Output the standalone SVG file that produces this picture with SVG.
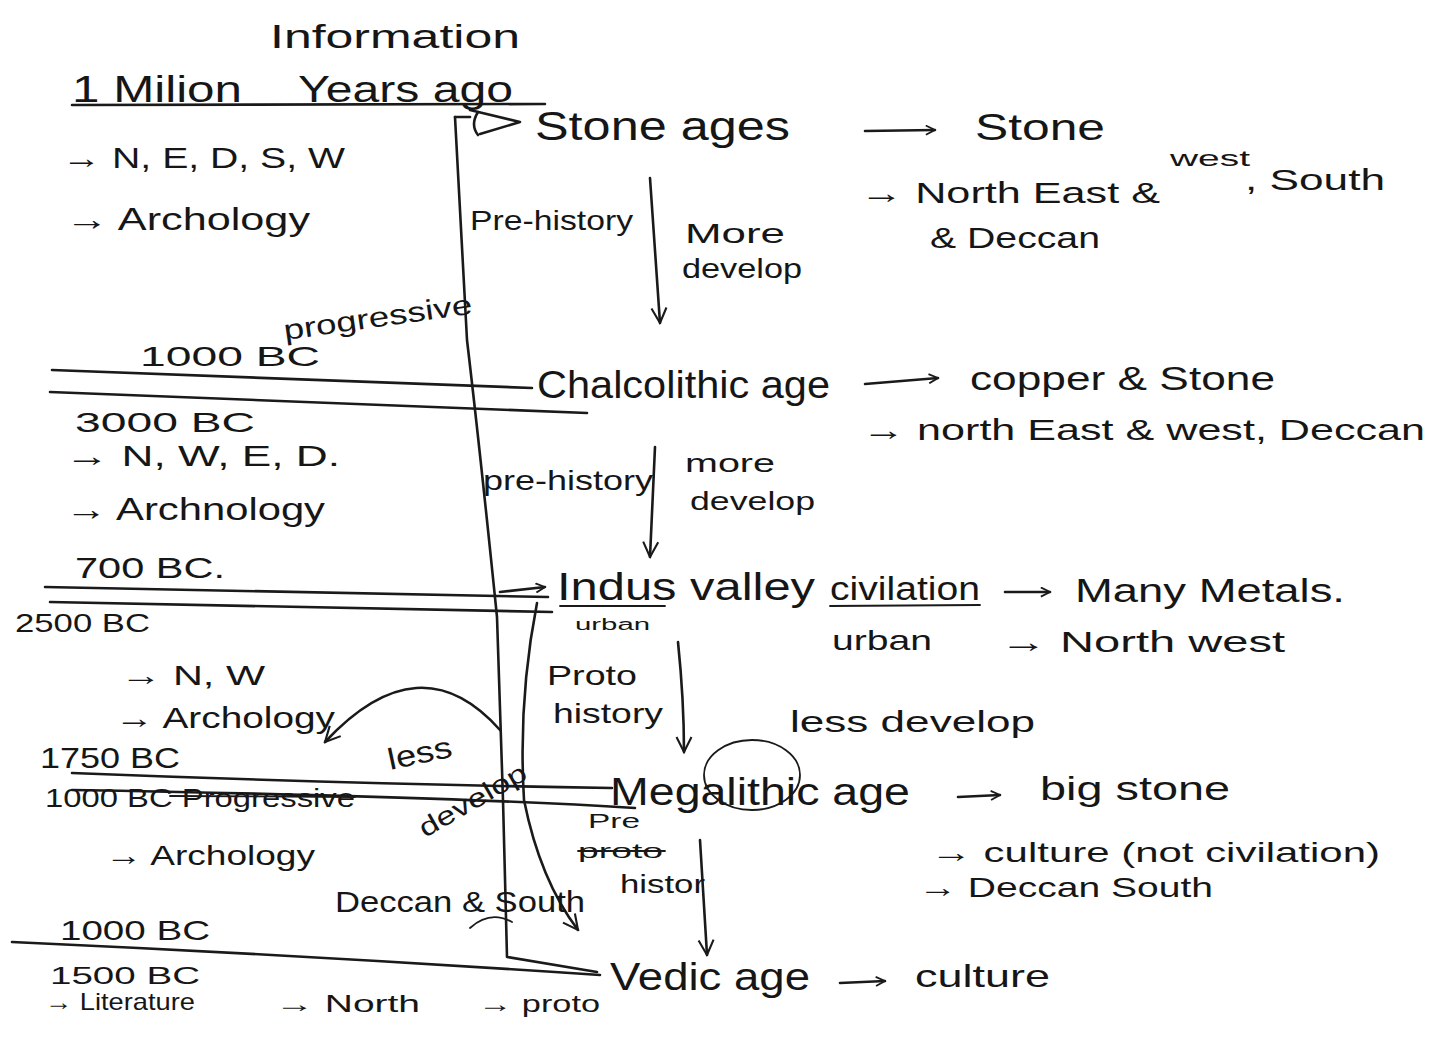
<svg xmlns="http://www.w3.org/2000/svg" width="1430" height="1045" viewBox="0 0 1430 1045">
<defs>
<style>
text{font-family:"Liberation Sans","DejaVu Sans",sans-serif;fill:#161616}
.ln{fill:none;stroke:#1a1a1a;stroke-width:2.6;stroke-linecap:round;stroke-linejoin:round}
.th{fill:none;stroke:#1a1a1a;stroke-width:1.8;stroke-linecap:round}
</style>
<marker id="ah" viewBox="0 0 12 12" refX="11" refY="6" markerWidth="11" markerHeight="11" orient="auto" markerUnits="userSpaceOnUse">
<path d="M1,1 L11,6 L1,11" fill="none" stroke="#1a1a1a" stroke-width="2"/>
</marker>
<marker id="ahb" viewBox="0 0 12 12" refX="11" refY="6" markerWidth="18" markerHeight="18" orient="auto" markerUnits="userSpaceOnUse">
<path d="M1,1 L11,6 L1,11" fill="none" stroke="#1a1a1a" stroke-width="1.4"/>
</marker>
</defs>
<rect width="1430" height="1045" fill="#ffffff"/>

<g id="title">
<text x="270" y="48" font-size="34" textLength="250" lengthAdjust="spacingAndGlyphs">Information</text>
</g>

<g id="connectors">
<!-- timeline rules -->
<path class="ln" d="M72 105 L545 104"/>
<path class="ln" d="M52 370 Q300 380 532 388"/>
<path class="ln" d="M50 392 Q320 403 587 413"/>
<path class="ln" d="M45 587 Q300 592 548 597"/>
<path class="ln" d="M50 602 Q300 606 552 612"/>
<path class="ln" d="M72 773 Q350 784 612 788"/>
<path class="ln" d="M72 790 Q440 796 635 808"/>
<path class="ln" d="M12 942 Q300 955 600 975"/>
<!-- long vertical line -->
<path class="ln" d="M455 117 L467 340 Q480 450 497 617 L503 800 L507 957 L597 972"/>
<path class="th" d="M470 928 Q490 910 512 922"/>
<!-- to Stone ages -->
<path class="ln" d="M455 117 L470 117" />
<path class="ln" d="M470 110 L520 122 L480 134" />
<path class="ln" d="M478 112 Q470 125 478 135"/>
<!-- second curve -->
<path class="ln" d="M537 603 Q518 700 524 800 Q540 880 578 930" marker-end="url(#ahb)"/>
<!-- Indus small arrow -->
<path class="ln" d="M500 592 L545 587" marker-end="url(#ah)"/>
<!-- less curved arrow -->
<path class="ln" d="M500 730 Q420 640 325 742" marker-end="url(#ahb)"/>
<!-- down arrows -->
<path class="ln" d="M650 178 L660 323" marker-end="url(#ahb)"/>
<path class="ln" d="M655 447 L650 557" marker-end="url(#ahb)"/>
<path class="ln" d="M678 642 Q684 700 684 752" marker-end="url(#ahb)"/>
<path class="ln" d="M700 840 L707 955" marker-end="url(#ahb)"/>
<!-- right arrows -->
<path class="ln" d="M865 131 L935 130" marker-end="url(#ah)"/>
<path class="ln" d="M865 384 L938 378" marker-end="url(#ah)"/>
<path class="ln" d="M1005 592 L1050 592" marker-end="url(#ah)"/>
<path class="ln" d="M958 797 L1000 795" marker-end="url(#ah)"/>
<path class="ln" d="M840 983 L885 981" marker-end="url(#ah)"/>
</g>

<g id="header">
<text x="72" y="102" font-size="36" textLength="170" lengthAdjust="spacingAndGlyphs">1 Milion</text>
<text x="298" y="102" font-size="36" textLength="215" lengthAdjust="spacingAndGlyphs">Years ago</text>
<text x="62" y="168" font-size="30" textLength="283" lengthAdjust="spacingAndGlyphs">→ N, E, D, S, W</text>
<text x="65" y="230" font-size="32" textLength="245" lengthAdjust="spacingAndGlyphs">→ Archology</text>
</g>

<g id="stone-ages">
<text x="535" y="140" font-size="40" textLength="255" lengthAdjust="spacingAndGlyphs">Stone ages</text>
<text x="470" y="230" font-size="28" textLength="163" lengthAdjust="spacingAndGlyphs">Pre-history</text>
<text x="685" y="243" font-size="28" textLength="100" lengthAdjust="spacingAndGlyphs">More</text>
<text x="682" y="278" font-size="28" textLength="120" lengthAdjust="spacingAndGlyphs">develop</text>
<text x="975" y="140" font-size="36" textLength="130" lengthAdjust="spacingAndGlyphs">Stone</text>
<text x="860" y="203" font-size="30" textLength="300" lengthAdjust="spacingAndGlyphs">→ North East &amp;</text>
<text x="1170" y="166" font-size="22" textLength="80" lengthAdjust="spacingAndGlyphs">west</text>
<text x="1245" y="190" font-size="30" textLength="140" lengthAdjust="spacingAndGlyphs">, South</text>
<text x="930" y="248" font-size="30" textLength="170" lengthAdjust="spacingAndGlyphs">&amp; Deccan</text>
</g>

<g id="chalcolithic">
<text x="285" y="340" font-size="28" textLength="190" lengthAdjust="spacingAndGlyphs" transform="rotate(-8 285 340)">progressive</text>
<text x="140" y="366" font-size="28" textLength="180" lengthAdjust="spacingAndGlyphs">1000 BC</text>
<text x="75" y="432" font-size="28" textLength="180" lengthAdjust="spacingAndGlyphs">3000 BC</text>
<text x="65" y="466" font-size="30" textLength="275" lengthAdjust="spacingAndGlyphs">→ N, W, E, D.</text>
<text x="65" y="520" font-size="32" textLength="260" lengthAdjust="spacingAndGlyphs">→ Archnology</text>
<text x="537" y="398" font-size="38" textLength="293" lengthAdjust="spacingAndGlyphs">Chalcolithic age</text>
<text x="970" y="390" font-size="34" textLength="305" lengthAdjust="spacingAndGlyphs">copper &amp; Stone</text>
<text x="862" y="440" font-size="30" textLength="563" lengthAdjust="spacingAndGlyphs">→ north East &amp; west, Deccan</text>
<text x="483" y="490" font-size="28" textLength="170" lengthAdjust="spacingAndGlyphs">pre-history</text>
<text x="685" y="472" font-size="26" textLength="90" lengthAdjust="spacingAndGlyphs">more</text>
<text x="690" y="510" font-size="26" textLength="125" lengthAdjust="spacingAndGlyphs">develop</text>
</g>

<g id="indus">
<text x="75" y="578" font-size="30" textLength="150" lengthAdjust="spacingAndGlyphs">700 BC.</text>
<text x="15" y="632" font-size="26" textLength="135" lengthAdjust="spacingAndGlyphs">2500 BC</text>
<text x="557" y="600" font-size="38" textLength="258" lengthAdjust="spacingAndGlyphs">Indus valley</text>
<path class="th" d="M560 606 L665 606"/>
<text x="830" y="600" font-size="34" textLength="150" lengthAdjust="spacingAndGlyphs">civilation</text>
<path class="th" d="M830 606 L980 605"/>
<text x="1075" y="602" font-size="34" textLength="270" lengthAdjust="spacingAndGlyphs">Many Metals.</text>
<text x="575" y="630" font-size="16" textLength="75" lengthAdjust="spacingAndGlyphs">urban</text>
<text x="832" y="650" font-size="28" textLength="100" lengthAdjust="spacingAndGlyphs">urban</text>
<text x="1000" y="652" font-size="30" textLength="285" lengthAdjust="spacingAndGlyphs">→ North west</text>
<text x="120" y="685" font-size="28" textLength="145" lengthAdjust="spacingAndGlyphs">→ N, W</text>
<text x="115" y="728" font-size="30" textLength="220" lengthAdjust="spacingAndGlyphs">→ Archology</text>
<text x="547" y="685" font-size="28" textLength="90" lengthAdjust="spacingAndGlyphs">Proto</text>
<text x="553" y="723" font-size="28" textLength="110" lengthAdjust="spacingAndGlyphs">history</text>
<text x="790" y="732" font-size="30" textLength="245" lengthAdjust="spacingAndGlyphs">less develop</text>
</g>

<g id="megalithic">
<text x="40" y="768" font-size="30" textLength="140" lengthAdjust="spacingAndGlyphs">1750 BC</text>
<text x="45" y="807" font-size="26" textLength="310" lengthAdjust="spacingAndGlyphs">1000 BC Progressive</text>
<path class="th" d="M170 796 L355 797"/>
<text x="390" y="770" font-size="30" textLength="65" lengthAdjust="spacingAndGlyphs" transform="rotate(-12 390 770)">less</text>
<text x="425" y="838" font-size="26" textLength="120" lengthAdjust="spacingAndGlyphs" transform="rotate(-30 425 838)">develop</text>
<text x="610" y="805" font-size="38" textLength="300" lengthAdjust="spacingAndGlyphs">Megalithic age</text>
<ellipse cx="752" cy="775" rx="48" ry="35" class="th"/>
<text x="1040" y="800" font-size="34" textLength="190" lengthAdjust="spacingAndGlyphs">big stone</text>
<text x="588" y="828" font-size="20" textLength="52" lengthAdjust="spacingAndGlyphs">Pre</text>
<text x="578" y="858" font-size="20" textLength="85" lengthAdjust="spacingAndGlyphs">proto</text>
<path class="th" d="M578 851 L665 851"/>
<text x="620" y="893" font-size="26" textLength="85" lengthAdjust="spacingAndGlyphs">histor</text>
<text x="105" y="865" font-size="28" textLength="210" lengthAdjust="spacingAndGlyphs">→ Archology</text>
<text x="930" y="862" font-size="28" textLength="450" lengthAdjust="spacingAndGlyphs">→ culture (not civilation)</text>
<text x="918" y="897" font-size="28" textLength="295" lengthAdjust="spacingAndGlyphs">→ Deccan South</text>
<text x="335" y="912" font-size="30" textLength="250" lengthAdjust="spacingAndGlyphs">Deccan &amp; South</text>
</g>

<g id="vedic">
<text x="60" y="940" font-size="28" textLength="150" lengthAdjust="spacingAndGlyphs">1000 BC</text>
<text x="50" y="984" font-size="24" textLength="150" lengthAdjust="spacingAndGlyphs">1500 BC</text>
<text x="45" y="1010" font-size="24" textLength="150" lengthAdjust="spacingAndGlyphs">→ Literature</text>
<text x="275" y="1012" font-size="24" textLength="145" lengthAdjust="spacingAndGlyphs">→ North</text>
<text x="478" y="1012" font-size="24" textLength="122" lengthAdjust="spacingAndGlyphs">→ proto</text>
<text x="610" y="990" font-size="38" textLength="200" lengthAdjust="spacingAndGlyphs">Vedic age</text>
<text x="915" y="987" font-size="32" textLength="135" lengthAdjust="spacingAndGlyphs">culture</text>
</g>
</svg>
